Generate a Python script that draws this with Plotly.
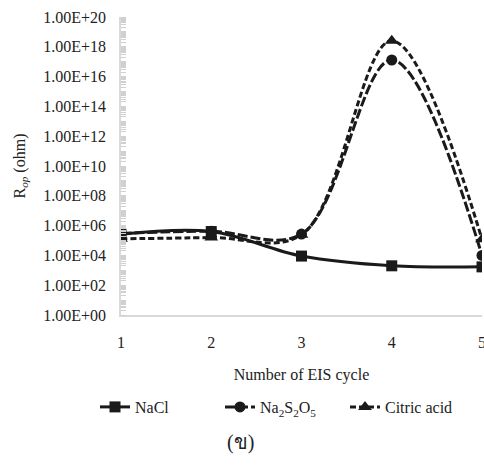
import plotly.graph_objects as go

cycles = [1, 2, 3, 4, 5]
nacl = [2.6e5, 4.0e5, 9.0e3, 2.0e3, 1.7e3]
na2s2o5 = [3.0e5, 4.2e5, 2.7e5, 1.3e17, 1.0e4]
citric = [1.3e5, 1.6e5, 2.4e5, 2.5e18, 1.2e5]

ytickvals = [1e0, 1e2, 1e4, 1e6, 1e8, 1e10, 1e12, 1e14, 1e16, 1e18, 1e20]
yticktext = ["1.00E+00", "1.00E+02", "1.00E+04", "1.00E+06", "1.00E+08", "1.00E+10",
             "1.00E+12", "1.00E+14", "1.00E+16", "1.00E+18", "1.00E+20"]
xtickvals = [1, 2, 3, 4, 5]
xticktext = ["1", "2", "3", "4", "5"]

FONT = "Liberation Serif, Times New Roman, serif"
C = "#1a1a1a"

L, R, T, B = 121, 482, 17, 315
W, H = 484, 466

fig = go.Figure()
fig.add_trace(go.Scatter(x=cycles, y=nacl, name="NaCl", mode="lines+markers",
                         line=dict(color=C, width=3, shape="spline"),
                         marker=dict(symbol="square", size=11, color=C)))
fig.add_trace(go.Scatter(x=cycles, y=na2s2o5, name="Na<sub>2</sub>S<sub>2</sub>O<sub>5</sub>",
                         mode="lines+markers",
                         line=dict(color=C, width=3, shape="spline", dash="10px,3px"),
                         marker=dict(symbol="circle", size=11, color=C)))
fig.add_trace(go.Scatter(x=cycles, y=citric, name="Citric acid", mode="lines+markers",
                         line=dict(color=C, width=3, shape="spline", dash="6px,3px"),
                         marker=dict(symbol="triangle-up", size=12, color=C)))

fig.update_layout(
    width=W, height=H,
    margin=dict(l=L, r=W - R, t=T, b=H - B, autoexpand=False),
    paper_bgcolor="white", plot_bgcolor="white",
    font=dict(family=FONT, size=16, color="#222"),
    showlegend=True,
    legend=dict(orientation="h", xref="paper", yref="paper",
                x=(95 - L) / (R - L), xanchor="left",
                y=(B - 407) / (B - T), yanchor="middle",
                font=dict(family=FONT, size=16, color="#222"),
                entrywidth=80, tracegroupgap=0),
    xaxis=dict(range=[1, 5], tickvals=xtickvals, ticktext=xticktext,
               showgrid=False, zeroline=False, showline=True, linecolor="#d9d9d9",
               linewidth=1.5, ticks="", ticklabelstandoff=12, ticklabeloverflow="allow",
               automargin=False,
               title=dict(text="Number of EIS cycle", standoff=19,
                          font=dict(family=FONT, size=16))),
    yaxis=dict(type="log", range=[0, 20], tickvals=ytickvals, ticktext=yticktext,
               showgrid=False, zeroline=False, showline=True, linecolor="#d9d9d9",
               linewidth=1.5, ticks="", ticklabelstandoff=10, automargin=False,
               minor=dict(ticks="inside", ticklen=5, tickcolor="#d0d0d0", dtick="D1",
                          showgrid=False),
               title=dict(text="R<sub><i>op</i></sub> (ohm)", standoff=14,
                          font=dict(family=FONT, size=16))),
)

fig.add_annotation(text="(ข)", xref="paper", yref="paper",
                   x=(240 - L) / (R - L), y=(B - 442) / (B - T),
                   xanchor="center", yanchor="middle",
                   showarrow=False, font=dict(family=FONT, size=20, color="#222"))

fig.write_html("out.html")
